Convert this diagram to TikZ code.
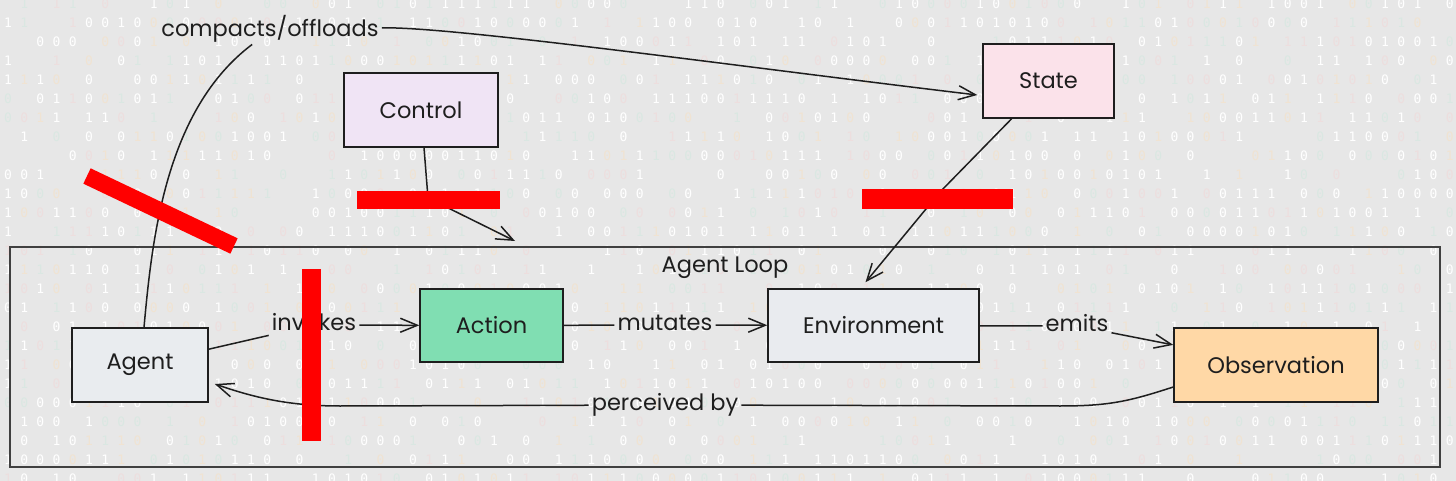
\documentclass[tikz,border=0pt]{standalone}
\usepackage{fontspec}
\setmainfont{Poppins}
\setmonofont{DejaVu Sans Mono}
\usetikzlibrary{arrows.meta}
\definecolor{bgc}{RGB}{231,231,231}
\definecolor{ink}{RGB}{30,30,30}
\definecolor{agentfill}{RGB}{233,236,239}
\definecolor{actionfill}{RGB}{128,222,178}
\definecolor{envfill}{RGB}{233,235,239}
\definecolor{obsfill}{RGB}{255,216,166}
\definecolor{ctlfill}{RGB}{240,228,245}
\definecolor{statefill}{RGB}{251,226,234}
\definecolor{dtan}{RGB}{240,227,210}
\definecolor{dteal}{RGB}{218,231,226}
\definecolor{dpink}{RGB}{237,222,222}
\definecolor{redact}{RGB}{255,0,0}
\begin{document}
\begin{tikzpicture}[x=1pt,y=-1pt,
  box/.style={draw=ink,line width=1.5pt,inner sep=0pt,text=ink,font=\fontsize{22.5}{27}\selectfont},
  elabel/.style={inner sep=3pt,text=ink,font=\fontsize{22.5}{27}\selectfont,text height=16pt,text depth=4.5pt},
  dig/.style={inner sep=0pt,font=\ttfamily\fontsize{13}{13}\selectfont},
  conn/.style={draw=ink,line width=1.5pt},
  arr/.style={conn,-{Straight Barb[length=17pt,width=14pt,line width=1.5pt]}},
  bar/.style={fill=redact}]
\useasboundingbox (0,0) rectangle (1456,481);
\fill[bgc] (0,0) rectangle (1456,481);
% binary texture
\pgfmathsetseed{42}
\foreach \r in {0,...,25}{
  \foreach \c in {0,...,89}{
    \pgfmathrandominteger{\dd}{0}{1}
    \pgfmathrandominteger{\kk}{0}{7}
    \ifcase\kk\relax
    \or \node[dig,text=white] at (8+16.2*\c,4+19*\r) {\dd};
    \or \node[dig,text=white] at (8+16.2*\c,4+19*\r) {\dd};
    \or \node[dig,text=white] at (8+16.2*\c,4+19*\r) {\dd};
    \or \node[dig,text=dtan] at (8+16.2*\c,4+19*\r) {\dd};
    \or \node[dig,text=dteal] at (8+16.2*\c,4+19*\r) {\dd};
    \or \node[dig,text=dpink] at (8+16.2*\c,4+19*\r) {\dd};
    \or
    \fi
  }
}
% loop frame
\node[draw=ink!85,line width=1.1pt,minimum width=1430pt,minimum height=220pt,inner sep=0pt] (loop) at (725,357) {};
\node[elabel] (looplabel) at (725,267) {Agent Loop};
% boxes
\node[box,fill=agentfill,minimum width=136pt,minimum height=74pt] (agent) at (140,365) {Agent};
\node[box,fill=actionfill,minimum width=143pt,minimum height=73pt] (action) at (491.5,325.5) {Action};
\node[box,fill=envfill,minimum width=211pt,minimum height=73pt] (env) at (873.5,325.5) {Environment};
\node[box,fill=obsfill,minimum width=204pt,minimum height=74pt] (obs) at (1276,365) {Observation};
\node[box,fill=ctlfill,minimum width=154pt,minimum height=74pt] (ctl) at (421,110) {Control};
\node[box,fill=statefill,minimum width=131pt,minimum height=74pt] (state) at (1048.5,81) {State};
% edge labels
\node[elabel] (inv) at (314,325) {invokes};
\node[elabel] (mut) at (665,325) {mutates};
\node[elabel] (emi) at (1077,326) {emits};
\node[elabel] (per) at (665,405) {perceived by};
\node[elabel] (cl) at (270,31) {compacts/offloads};
\coordinate (cmid) at (428,198);
\coordinate (ctip) at (515,241);
\coordinate (smid) at (940,192);
% connectors
\draw[conn] (agent) -- (inv);
\draw[arr] (inv) -- (action);
\draw[conn] (action) -- (mut);
\draw[arr] (mut) -- (env);
\draw[conn] (env) -- (emi);
\draw[arr] (emi) -- (obs);
\draw[conn] ([yshift=-22pt]obs.west) .. controls (1130,401) and (1110,406) .. (1060,406) -- (per);
\draw[arr] (per) -- (340,406) .. controls (285,406) and (250,396) .. ([xshift=6pt,yshift=-19pt]agent.east);
\draw[conn] ([xshift=4pt]agent.north) .. controls (152,240) and (165,110) .. (cl);
\draw[arr] (cl) .. controls (450,26) and (750,68) .. ([xshift=-5pt,yshift=-14pt]state.west);
\draw[arr] (ctl) -- (cmid) -- (ctip);
\draw[arr] (state) -- (smid) -- ([xshift=-8pt,yshift=6pt]env.north);
% redaction bars
\draw[redact,line width=17pt] (87,176) -- (234,246);
\fill[bar] (357,191) rectangle (500,209);
\fill[bar] (862,189) rectangle (1013,209);
\fill[bar] (302,269) rectangle (321,441);
\end{tikzpicture}
\end{document}
